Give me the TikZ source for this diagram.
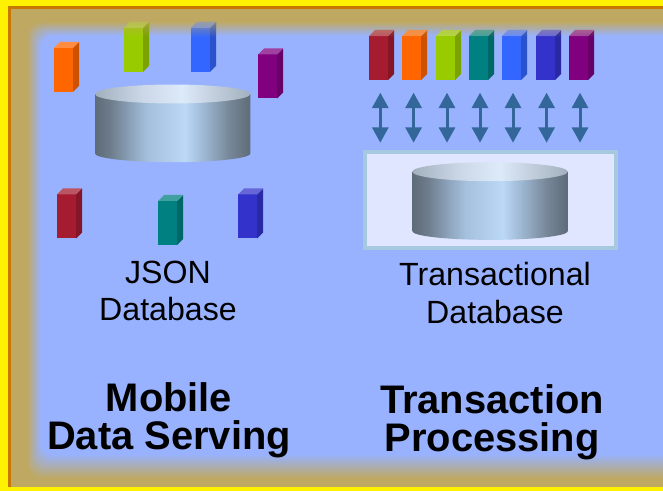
\documentclass[tikz,border=0pt]{standalone}
\usepackage{fontspec}
\setmainfont{Liberation Sans}
\usetikzlibrary{arrows.meta,fadings}
\definecolor{tanC}{HTML}{BFA962}
\definecolor{blueC}{HTML}{99B2FF}
\definecolor{edgeC}{HTML}{C87800}
\definecolor{arrowC}{HTML}{336699}
\definecolor{boxC}{HTML}{E0E6FF}
\definecolor{boxE}{HTML}{A8C8E0}
\definecolor{cRed}{HTML}{A51C30}
\definecolor{cOrange}{HTML}{FF6600}
\definecolor{cLime}{HTML}{99CC00}
\definecolor{cTeal}{HTML}{008080}
\definecolor{cBlue}{HTML}{3366FF}
\definecolor{cIndigo}{HTML}{3333CC}
\definecolor{cPurple}{HTML}{800080}
\definecolor{bA}{HTML}{5E6B78}
\definecolor{bB}{HTML}{6E7D8C}
\definecolor{bC}{HTML}{8FA6BE}
\definecolor{bD}{HTML}{A5C0DC}
\definecolor{bE}{HTML}{BBD8F7}
\definecolor{bF}{HTML}{99B2CC}
\definecolor{bG}{HTML}{788899}
\definecolor{tA}{HTML}{A2B0BE}
\definecolor{tB}{HTML}{CBD7E6}
\definecolor{tC}{HTML}{DDEAFA}
\definecolor{tD}{HTML}{BECAD8}
\pgfdeclarehorizontalshading{cylbody}{100bp}{
 color(0bp)=(bA);color(25bp)=(bA);color(30bp)=(bB);color(37bp)=(bC);
 color(42bp)=(bD);color(54bp)=(bE);color(61bp)=(bF);color(68bp)=(bG);
 color(75bp)=(bA);color(100bp)=(bA)}
\pgfdeclarehorizontalshading{cyltop}{100bp}{
 color(0bp)=(tA);color(25bp)=(tA);color(40bp)=(tB);color(53bp)=(tC);
 color(65bp)=(tD);color(75bp)=(tA);color(100bp)=(tA)}
\tikzfading[name=topveil, top color=transparent!35, bottom color=transparent!100]
\tikzset{
 labeltext/.style={font=\fontsize{24.1}{28}\selectfont, align=center, text=black},
 headtext/.style={font=\fontsize{29.9}{28.6}\selectfont\bfseries, align=center, text=black},
 linkarrow/.style={draw=arrowC, line width=2.25pt, {Triangle[width=12pt,length=11.5pt]}-{Triangle[width=12pt,length=11.5pt]}},
 frontbox/.style={fill=boxC, draw=boxE, line width=3pt}
}
% x, y of the front top-left corner, colour
\newcommand{\dbblock}[3]{
 \fill[#3] (#1,#2) rectangle ++(19,44);
 \fill[#3!80!black] (#1+19,#2) -- ++(6,-6) -- ++(0,44) -- ++(-6,6) -- cycle;
 \fill[#3!75!white] (#1,#2) -- ++(6,-6) -- ++(19,0) -- ++(-6,6) -- cycle;
 \begin{scope}
  \clip (#1,#2+44) -- (#1,#2) -- ++(6,-6) -- ++(19,0) -- ++(0,44) -- ++(-6,6) -- cycle;
  \fill[tanC, path fading=topveil] (0,20) rectangle (663,37);
 \end{scope}
}
% centre x, y of the rim line
\newcommand{\dbcyl}[2]{
 \shade[shading=cylbody] (#1-77.7,#2) -- ++(0,59.5) arc[start angle=180,end angle=360,x radius=58.3pt,y radius=6.5pt] -- ++(0,-59.5) -- cycle;
 \shade[shading=cyltop] (#1,#2) ellipse[x radius=58.3pt,y radius=7.1pt];
}
\begin{document}
\begin{tikzpicture}[x=0.75pt,y=-0.75pt]
\useasboundingbox (0,0) rectangle (663,491);
\fill[tanC] (0,0) rectangle (663,491);
\begin{scope}
 \clip (0,0) rectangle (663,491);
 \foreach \i in {0,...,24}{
  \pgfmathsetmacro{\pct}{\i*100/24}
  \pgfmathsetmacro{\xa}{27+14*\i/24}
  \pgfmathsetmacro{\ya}{22+14*\i/24}
  \pgfmathsetmacro{\yb}{479-24*\i/24}
  \fill[blueC!\pct!tanC, rounded corners=10pt] (\xa,\ya) rectangle (720,\yb);
 }
\end{scope}
\fill[edgeC] (8,6) rectangle (663,8.7);
\fill[edgeC] (8,6) rectangle (11,487);
\fill[yellow] (0,0) rectangle (663,6);
\fill[yellow] (0,0) rectangle (8,491);
\fill[yellow] (0,487) rectangle (663,491);

% left group
\dbblock{54}{48}{cOrange}
\dbblock{124}{28}{cLime}
\dbblock{191}{28}{cBlue}
\dbblock{258}{54.5}{cPurple}
\dbblock{57}{194.5}{cRed}
\dbblock{158}{201}{cTeal}
\dbblock{238}{194.5}{cIndigo}
\dbcyl{172.7}{94}

% right group
\dbblock{369}{36}{cRed}
\dbblock{402}{36}{cOrange}
\dbblock{436}{36}{cLime}
\dbblock{469}{36}{cTeal}
\dbblock{502}{36}{cBlue}
\dbblock{536}{36}{cIndigo}
\dbblock{569}{36}{cPurple}
\foreach \n/\x in {a/380.3,b/413.6,c/447,d/480,e/513,f/546.6,g/580}{
 \coordinate (top\n) at (\x,92.7);
 \coordinate (bot\n) at (\x,142.7);
 \draw[linkarrow] (top\n) -- (bot\n);
}
\node[frontbox, minimum width=188.3pt, minimum height=72pt, inner sep=0pt, anchor=north west] (txbox) at (362.7,150) {};
\dbcyl{490}{171.7}

\node[labeltext] (jsonlabel) at (168,291) {JSON\\Database};
\node[labeltext] (txlabel) at (495,293) {Transactional\\Database};
\node[headtext] (mobile) at (169,420) {Mobile\\Data Serving};
\node[headtext] (txproc) at (492,422) {Transaction\\Processing};
\end{tikzpicture}
\end{document}
